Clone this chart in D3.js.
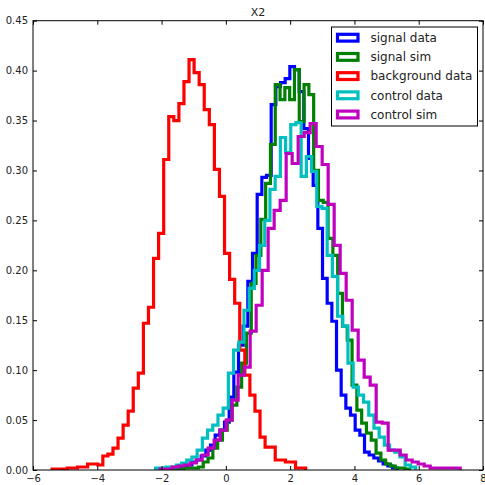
<!DOCTYPE html>
<html>
<head>
<meta charset="utf-8">
<script src="https://cdn.jsdelivr.net/npm/d3@7"></script>
<style>
  body { margin: 0; background: #fff; }
  text { font-family: "DejaVu Sans", sans-serif; fill: #222; }
</style>
</head>
<body>
<div class="chart"></div>
<script>
// histogram bin heights (50 bins each)
const signalData = [
  0.001, 0.002, 0.002, 0.003, 0.003, 0.005, 0.008, 0.010, 0.014, 0.020,
  0.025, 0.035, 0.040, 0.048, 0.073, 0.098, 0.125, 0.144, 0.189, 0.217,
  0.276, 0.293, 0.295, 0.366, 0.384, 0.388, 0.392, 0.404, 0.401, 0.379,
  0.342, 0.312, 0.285, 0.242, 0.192, 0.167, 0.149, 0.100, 0.075, 0.062,
  0.055, 0.040, 0.035, 0.018, 0.015, 0.012, 0.009, 0.006, 0.004, 0.002
];
const signalSim = [
  0.001, 0.001, 0.001, 0.002, 0.002, 0.002, 0.003, 0.008, 0.012, 0.022,
  0.030, 0.040, 0.050, 0.065, 0.083, 0.107, 0.137, 0.187, 0.215, 0.251,
  0.287, 0.326, 0.386, 0.371, 0.383, 0.371, 0.401, 0.349, 0.386, 0.376,
  0.300, 0.270, 0.268, 0.232, 0.215, 0.177, 0.144, 0.130, 0.085, 0.060,
  0.047, 0.037, 0.030, 0.017, 0.010, 0.006, 0.004, 0.002, 0.002, 0.001
];
const backgroundData = [
  0.001, 0.001, 0.001, 0.002, 0.002, 0.003, 0.003, 0.006, 0.006, 0.005,
  0.014, 0.016, 0.022, 0.032, 0.045, 0.059, 0.082, 0.097, 0.147, 0.163,
  0.212, 0.237, 0.311, 0.354, 0.350, 0.367, 0.389, 0.411, 0.398, 0.386,
  0.361, 0.346, 0.301, 0.274, 0.217, 0.191, 0.167, 0.120, 0.095, 0.075,
  0.059, 0.033, 0.023, 0.023, 0.010, 0.010, 0.008, 0.008, 0.002, 0.002
];
const controlData = [
  0.002, 0.002, 0.003, 0.003, 0.005, 0.007, 0.010, 0.013, 0.020, 0.032,
  0.040, 0.045, 0.055, 0.062, 0.097, 0.120, 0.128, 0.160, 0.182, 0.200,
  0.225, 0.250, 0.281, 0.294, 0.333, 0.318, 0.346, 0.348, 0.294, 0.314,
  0.299, 0.264, 0.262, 0.215, 0.194, 0.154, 0.144, 0.107, 0.083, 0.075,
  0.068, 0.055, 0.042, 0.033, 0.025, 0.020, 0.018, 0.013, 0.005, 0.003
];
const controlSim = [
  0.001, 0.001, 0.003, 0.004, 0.005, 0.007, 0.010, 0.015, 0.022, 0.030,
  0.040, 0.050, 0.070, 0.095, 0.103, 0.139, 0.165, 0.200, 0.242, 0.260,
  0.270, 0.317, 0.307, 0.334, 0.338, 0.347, 0.324, 0.306, 0.266, 0.225,
  0.197, 0.170, 0.140, 0.110, 0.093, 0.085, 0.048, 0.047, 0.020, 0.020,
  0.015, 0.010, 0.008, 0.006, 0.004, 0.002, 0.002, 0.002, 0.002, 0.002
];

// [min, max] of each histogram's bins
const signalDataRange = [-1.929, 5.330];
const signalSimRange = [-1.749, 5.719];
const backgroundDataRange = [-5.405, 2.483];
const controlDataRange = [-2.187, 5.902];
const controlSimRange = [-2.044, 7.290];

const seriesNames = ["signal data", "signal sim", "background data", "control data", "control sim"];
const seriesColors = ["#0000ff", "#008000", "#ff0000", "#00bfbf", "#bf00bf"];
const xTicks = [-6, -4, -2, 0, 2, 4, 6, 8];
const yTicks = [0, 0.05, 0.1, 0.15, 0.2, 0.25, 0.3, 0.35, 0.4, 0.45];

const series = [
  { name: seriesNames[0], color: seriesColors[0], values: signalData, range: signalDataRange },
  { name: seriesNames[1], color: seriesColors[1], values: signalSim, range: signalSimRange },
  { name: seriesNames[2], color: seriesColors[2], values: backgroundData, range: backgroundDataRange },
  { name: seriesNames[3], color: seriesColors[3], values: controlData, range: controlDataRange },
  { name: seriesNames[4], color: seriesColors[4], values: controlSim, range: controlSimRange }
];

const width = 485;
const height = 485;
const plotLeft = 33, plotRight = 483, plotTop = 20.7, plotBottom = 470;

const svg = d3
  .select(".chart")
  .append("svg")
  .attr("width", width)
  .attr("height", height);

const xScale = d3.scaleLinear().domain([-6, 8]).range([plotLeft, plotRight]);
const yScale = d3.scaleLinear().domain([0, 0.45]).range([plotBottom, plotTop]);

svg
  .append("defs")
  .append("clipPath")
  .attr("id", "plot-clip")
  .append("rect")
  .attr("x", plotLeft)
  .attr("y", plotTop)
  .attr("width", plotRight - plotLeft)
  .attr("height", plotBottom - plotTop);

// step outline of each histogram
const line = d3
  .line()
  .x((d) => xScale(d[0]))
  .y((d) => yScale(d[1]));

function stepPoints(s) {
  const n = s.values.length;
  const w = (s.range[1] - s.range[0]) / n;
  const pts = [[s.range[0], 0]];
  s.values.forEach((v, i) => {
    pts.push([s.range[0] + i * w, v]);
    pts.push([s.range[0] + (i + 1) * w, v]);
  });
  pts.push([s.range[1], 0]);
  return pts;
}

svg
  .append("g")
  .attr("clip-path", "url(#plot-clip)")
  .selectAll("path")
  .data(series)
  .enter()
  .append("path")
  .attr("d", (d) => line(stepPoints(d)))
  .attr("fill", "none")
  .attr("stroke", (d) => d.color)
  .attr("stroke-width", 3.2)
  .attr("stroke-linejoin", "miter");

// axes, ticks pointing inwards on all four sides
const xAxis = d3.axisBottom(xScale).tickValues(xTicks).tickSize(-4).tickPadding(5).tickFormat(d3.format("d"));
const yAxis = d3.axisLeft(yScale).tickValues(yTicks).tickSize(-4).tickPadding(5).tickFormat(d3.format(".2f"));

svg.append("g").attr("transform", `translate(0, ${plotBottom})`).call(xAxis);
svg.append("g").attr("transform", `translate(${plotLeft}, 0)`).call(yAxis);
svg.append("g").attr("transform", `translate(0, ${plotTop})`)
  .call(d3.axisTop(xScale).tickValues(xTicks).tickSize(-4).tickFormat(""));
svg.append("g").attr("transform", `translate(${plotRight}, 0)`)
  .call(d3.axisRight(yScale).tickValues(yTicks).tickSize(-4).tickFormat(""));

svg.selectAll(".domain").remove();
svg.selectAll(".tick line").attr("stroke", "#000");
svg.selectAll(".tick text").attr("font-size", 10).attr("font-family", "DejaVu Sans").attr("fill", "#222");

svg
  .append("rect")
  .attr("x", plotLeft)
  .attr("y", plotTop)
  .attr("width", plotRight - plotLeft)
  .attr("height", plotBottom - plotTop)
  .attr("fill", "none")
  .attr("stroke", "#000")
  .attr("stroke-width", 1);

svg
  .append("text")
  .attr("x", (plotLeft + plotRight) / 2)
  .attr("y", 15.5)
  .attr("text-anchor", "middle")
  .attr("font-size", 11)
  .text("X2");

// legend
const legend = svg.append("g");
legend
  .append("rect")
  .attr("x", 331.5)
  .attr("y", 27)
  .attr("width", 146)
  .attr("height", 99)
  .attr("fill", "#fff")
  .attr("stroke", "#000")
  .attr("stroke-width", 1);

const items = legend
  .selectAll(".item")
  .data(series)
  .enter()
  .append("g")
  .attr("class", "item")
  .attr("transform", (d, i) => `translate(0, ${37.7 + i * 19.2})`);

items
  .append("rect")
  .attr("x", 337.5)
  .attr("y", -3.4)
  .attr("width", 20.5)
  .attr("height", 6.8)
  .attr("fill", "none")
  .attr("stroke", (d) => d.color)
  .attr("stroke-width", 3.2);

items
  .append("text")
  .attr("x", 370.5)
  .attr("y", 4.3)
  .attr("font-size", 12)
  .text((d) => d.name);
</script>
</body>
</html>
